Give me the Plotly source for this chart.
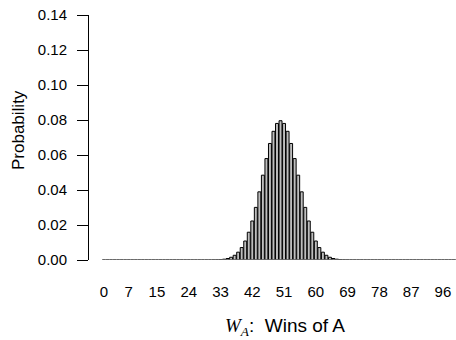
import plotly.graph_objects as go

wins = list(range(0, 101))
# probabilities (right half mirrors left half around 50)
right_half = [0.07959, 0.07803, 0.07353, 0.06659, 0.05796, 0.04847, 0.03895,
              0.03007, 0.02229, 0.01587, 0.01084, 0.00711, 0.00447, 0.00270,
              0.00156, 0.00086, 0.00046, 0.00023, 0.00011, 0.00005, 0.00002]
right_half += [0.0] * (51 - len(right_half))
probs = right_half[:0:-1] + right_half
tick_vals = [0, 7, 15, 24, 33, 42, 51, 60, 69, 78, 87, 96]
y_ticks = [0.00, 0.02, 0.04, 0.06, 0.08, 0.10, 0.12, 0.14]

FONT = "Liberation Sans"

fig = go.Figure()
fig.add_trace(go.Bar(
    x=wins, y=probs, width=1 / 1.2,
    marker=dict(color="#bebebe", line=dict(color="black", width=1)),
))
fig.add_shape(type="line", xref="x", yref="y",
              x0=wins[0] - 0.42, x1=wins[-1] + 0.42, y0=0, y1=0,
              line=dict(color="#777777", width=1.5))

fig.update_layout(
    width=456, height=340,
    margin=dict(l=89, r=0, t=15, b=80),
    plot_bgcolor="white", paper_bgcolor="white",
    showlegend=False,
    font=dict(family=FONT, size=15, color="black"),
    xaxis=dict(
        range=[-4.25, 99.7], tickmode="array", tickvals=tick_vals,
        ticktext=[str(v) for v in tick_vals],
        ticks="outside", ticklen=18, tickcolor="rgba(0,0,0,0)",
        showline=False, showgrid=False, zeroline=False,
    ),
    yaxis=dict(
        range=[0, 0.14], tickmode="array", tickvals=y_ticks,
        ticktext=[f"{v:.2f}" for v in y_ticks],
        ticks="outside", ticklen=11, tickwidth=1, tickcolor="black",
        showline=True, linecolor="black", linewidth=1,
        showgrid=False, zeroline=False, ticklabelstandoff=7,
    ),
    annotations=[
        dict(text="Probability", xref="paper", yref="paper",
             x=(18 - 89) / 367, y=(260 - 130) / 245, textangle=-90,
             showarrow=False, xanchor="center", yanchor="middle",
             font=dict(size=17)),
        dict(text="<span style='font-family:\"Liberation Serif\", serif'><i>W</i><sub><i>A</i></sub></span>:  Wins of A",
             xref="paper", yref="paper", x=(285 - 89) / 367, y=-(327 - 260) / 245,
             showarrow=False, xanchor="center", yanchor="middle",
             font=dict(size=19)),
    ],
)

fig.write_html("out.html")
